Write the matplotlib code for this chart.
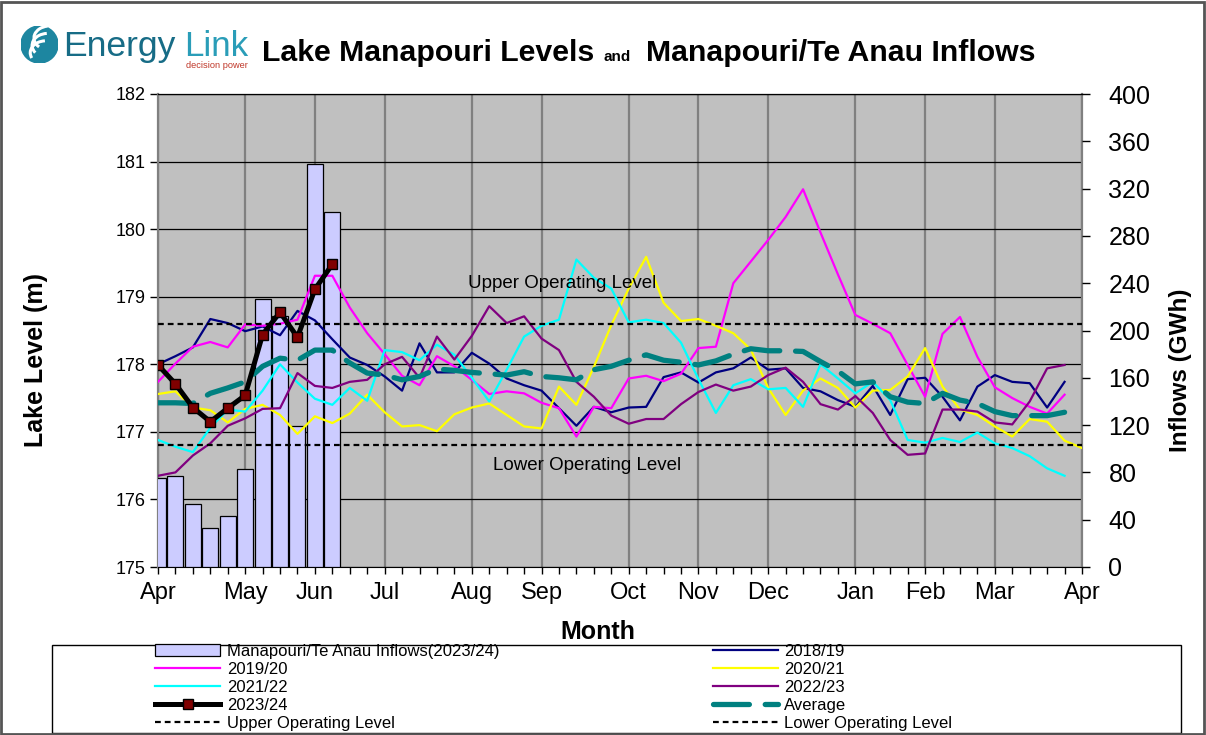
import numpy as np
import matplotlib.pyplot as plt
from matplotlib.patches import Rectangle, Circle, Arc

plt.rcParams['font.family'] = ['Liberation Sans', 'DejaVu Sans']

W, H = 1206, 735

month_labels = ['Apr', 'May', 'Jun', 'Jul', 'Aug', 'Sep', 'Oct', 'Nov', 'Dec', 'Jan', 'Feb', 'Mar', 'Apr']
month_weeks = [0, 5, 9, 13, 18, 22, 27, 31, 35, 40, 44, 48, 53]

# weekly inflows 2023/24 (GWh, right axis)
inflows_2324 = [75, 77, 53, 33, 43, 83, 227, 212, 119, 341, 300]

# weekly lake levels (m, left axis)
lvl_2324 = [177.99, 177.71, 177.36, 177.15, 177.35, 177.54, 178.44, 178.77, 178.40, 179.11, 179.48]

lvl_1819 = [178.00, 178.12, 178.25, 178.67, 178.61, 178.49, 178.56, 178.43, 178.79, 178.65,
            178.37, 178.10, 177.99, 177.82, 177.61, 178.31, 177.88, 177.88, 178.17, 178.01,
            177.79, 177.69, 177.61, 177.35, 177.09, 177.37, 177.29, 177.36, 177.37, 177.81,
            177.88, 177.73, 177.88, 177.94, 178.10, 177.92, 177.94, 177.65, 177.60, 177.47,
            177.37, 177.68, 177.25, 177.78, 177.80, 177.52, 177.17, 177.67, 177.84, 177.74,
            177.72, 177.36, 177.74]

lvl_1920 = [177.74, 178.01, 178.26, 178.33, 178.25, 178.59, 178.57, 178.60, 178.66, 179.31,
            179.31, 178.84, 178.46, 178.15, 177.83, 177.69, 178.12, 177.97, 177.77, 177.56,
            177.60, 177.57, 177.43, 177.35, 176.93, 177.37, 177.35, 177.79, 177.83, 177.75,
            177.86, 178.24, 178.26, 179.20, 179.52, 179.84, 180.18, 180.59, 179.95, 179.33,
            178.73, 178.60, 178.46, 177.99, 177.52, 178.45, 178.70, 178.11, 177.66, 177.50,
            177.37, 177.27, 177.55]

lvl_2021 = [177.56, 177.60, 177.36, 177.32, 177.14, 177.34, 177.40, 177.25, 176.97, 177.23,
            177.13, 177.27, 177.55, 177.29, 177.08, 177.10, 177.01, 177.26, 177.36, 177.42,
            177.25, 177.08, 177.05, 177.67, 177.40, 177.96, 178.58, 179.12, 179.59, 178.91,
            178.64, 178.67, 178.57, 178.46, 178.22, 177.65, 177.25, 177.61, 177.79, 177.65,
            177.36, 177.61, 177.62, 177.82, 178.24, 177.67, 177.33, 177.25, 177.08, 176.93,
            177.19, 177.15, 176.87, 176.76]

lvl_2122 = [176.88, 176.78, 176.70, 177.06, 177.33, 177.30, 177.61, 178.00, 177.73, 177.49,
            177.40, 177.65, 177.46, 178.21, 178.18, 178.06, 178.29, 178.14, 177.80, 177.45,
            177.92, 178.41, 178.57, 178.66, 179.55, 179.28, 179.12, 178.62, 178.66, 178.61,
            178.32, 177.78, 177.28, 177.69, 177.78, 177.63, 177.65, 177.37, 178.00, 177.79,
            177.57, 177.74, 177.47, 176.88, 176.84, 176.91, 176.85, 176.99, 176.83, 176.76,
            176.64, 176.46, 176.35]

lvl_2223 = [176.35, 176.40, 176.65, 176.83, 177.09, 177.20, 177.34, 177.35, 177.87, 177.68,
            177.65, 177.74, 177.77, 178.00, 178.11, 177.80, 178.41, 178.07, 178.42, 178.86,
            178.61, 178.71, 178.38, 178.21, 177.74, 177.52, 177.24, 177.12, 177.19, 177.19,
            177.41, 177.59, 177.70, 177.61, 177.67, 177.84, 177.95, 177.74, 177.41, 177.33,
            177.53, 177.28, 176.88, 176.66, 176.68, 177.33, 177.33, 177.30, 177.14, 177.11,
            177.45, 177.94, 177.99]

lvl_avg = [177.43, 177.43, 177.42, 177.57, 177.65, 177.74, 177.97, 178.09, 178.06, 178.21,
           178.21, 178.02, 177.87, 177.84, 177.77, 177.82, 177.93, 177.91, 177.88, 177.86,
           177.84, 177.89, 177.82, 177.80, 177.77, 177.92, 177.97, 178.06, 178.14, 178.06,
           178.03, 177.99, 178.05, 178.15, 178.23, 178.20, 178.20, 178.19, 178.04, 177.90,
           177.71, 177.74, 177.52, 177.44, 177.42, 177.57, 177.47, 177.42, 177.30, 177.24,
           177.24, 177.24, 177.29]

upper_level = 178.6
lower_level = 176.8


def px(x, y):
    return x / W, 1 - y / H


fig = plt.figure(figsize=(W / 100, H / 100), dpi=100)
renderer = fig.canvas.get_renderer()

# base axes: background, grid, level ticks
ax = fig.add_axes([158 / W, 1 - 567 / H, (1082 - 158) / W, (567 - 94) / H])
ax.set_facecolor('#C0C0C0')
ax.set_xlim(0, 53)
ax.set_ylim(175, 182)
ax.set_yticks(range(175, 183))
ax.set_xticks(month_weeks)
ax.set_xticklabels(month_labels, fontsize=17)
ax.set_xticks(np.arange(0, 54), minor=True)
ax.tick_params(axis='x', which='both', direction='out', length=5, pad=6, width=1)
ax.tick_params(axis='y', direction='out', length=6, pad=3, labelsize=13, width=1)
ax.grid(axis='x', which='major', color='#808080', lw=1.6)
ax.grid(axis='y', color='black', lw=0.9)
ax.set_axisbelow(True)
ax.spines['left'].set_color('#808080')
ax.spines['left'].set_linewidth(1.6)
ax.spines['right'].set_color('#808080')
ax.spines['right'].set_linewidth(1.6)
ax.spines['top'].set_linewidth(0.9)

# inflow bars on the right axis
ax2 = ax.twinx()
ax2.set_ylim(0, 400)
ax2.set_yticks(range(0, 401, 40))
ax2.tick_params(axis='y', direction='out', length=6, pad=13, labelsize=18, width=1)
for s in ax2.spines.values():
    s.set_visible(False)
bars = ax2.bar(np.arange(len(inflows_2324)), inflows_2324, width=0.92,
               color='#CCCCFF', edgecolor='black', lw=0.9,
               label='Manapouri/Te Anau Inflows(2023/24)')

# level lines on top
ax3 = ax.twinx()
ax3.set_ylim(ax.get_ylim())
ax3.axis('off')

series = [
    (lvl_1819, '#000080', '2018/19'),
    (lvl_1920, '#FF00FF', '2019/20'),
    (lvl_2021, '#FFFF00', '2020/21'),
    (lvl_2122, '#00FFFF', '2021/22'),
    (lvl_2223, '#800080', '2022/23'),
]
lines = {}
for vals, col, name in series:
    lines[name], = ax3.plot(np.arange(len(vals)), vals, color=col, lw=1.6, label=name)

lavg, = ax3.plot(np.arange(len(lvl_avg)), lvl_avg, color='#008080', lw=3.8,
                 dashes=(6.8, 3.0), dash_capstyle='round', label='Average')
l2324, = ax3.plot(np.arange(len(lvl_2324)), lvl_2324, color='black', lw=3.6,
                  marker='s', markersize=7, markerfacecolor='#800000',
                  markeredgecolor='black', markeredgewidth=1, label='2023/24', zorder=4)
lup = ax3.axhline(upper_level, color='black', lw=1.6, dashes=(2.6, 1.8),
                  label='Upper Operating Level')
llow = ax3.axhline(lower_level, color='black', lw=1.6, dashes=(2.6, 1.8),
                   label='Lower Operating Level')
ax3.text(23.2, upper_level + 0.6, 'Upper Operating Level', ha='center', va='center', fontsize=13.5)
ax3.text(24.6, lower_level - 0.3, 'Lower Operating Level', ha='center', va='center', fontsize=13.5)

# axis titles
fig.text(*px(36, 360), 'Lake Level (m)', rotation=90, ha='center', va='center',
         fontsize=18, fontweight='bold')
fig.text(*px(1180, 370), 'Inflows (GWh)', rotation=90, ha='center', va='center',
         fontsize=17.5, fontweight='bold')
fig.text(*px(598, 632), 'Month', ha='center', va='center', fontsize=18, fontweight='bold')

# title pieces
x = 262
for txt, fs, gap in [('Lake Manapouri Levels', 21.8, 9), ('and', 11, 16),
                     ('Manapouri/Te Anau Inflows', 21.8, 0)]:
    t = fig.text(*px(x, 61), txt, fontsize=fs, fontweight='bold', va='baseline')
    x += t.get_window_extent(renderer).width + gap


def fitted_text(x, y, s, width, color, weight='normal'):
    t = fig.text(*px(x, y), s, color=color, fontsize=20, fontweight=weight, va='baseline',
                 family=['Liberation Sans Narrow', 'Liberation Sans'])
    w = t.get_window_extent(renderer).width
    t.set_fontsize(20 * width / w)
    return t


# logo
lax = fig.add_axes([21 / W, 1 - 63 / H, 37 / W, 37 / H])
lax.set_xlim(-1, 1)
lax.set_ylim(-1, 1)
lax.set_aspect('equal')
lax.axis('off')
lax.add_patch(Circle((0, 0), 1, color='#1d86a0'))
for cx, cy, w_, h_, a1, a2 in [(0.35, -0.45, 1.7, 1.3, 95, 200), (0.45, -0.05, 1.7, 1.3, 95, 210),
                               (0.55, 0.35, 1.7, 1.3, 100, 220)]:
    lax.add_patch(Arc((cx, cy), w_, h_, theta1=a1, theta2=a2, color='white', lw=2.2))
fitted_text(63, 56, 'Energy', 112, '#176c86', weight='medium')
fitted_text(184, 56, 'Link', 64, '#2a9db8', weight='medium')
fitted_text(186, 68, 'decision power', 62, '#c0392b')

# legend box and entries
fig.add_artist(Rectangle(px(52, 733), 1129 / W, 88 / H, transform=fig.transFigure,
                         fill=False, edgecolor='black', lw=1))
handles = [bars, lines['2019/20'], lines['2021/22'], l2324, lup,
           lines['2018/19'], lines['2020/21'], lines['2022/23'], lavg, llow]
labels = [h.get_label() for h in handles]
fig.legend(handles, labels, loc='upper left', bbox_to_anchor=px(155, 644), ncol=2,
           frameon=False, fontsize=12, handlelength=3.9, handletextpad=0.4,
           columnspacing=12.8, labelspacing=0.18, borderpad=0, borderaxespad=0)

fig.add_artist(Rectangle((1 / W, 1 / H), 1 - 3 / W, 1 - 3 / H, transform=fig.transFigure,
                         fill=False, edgecolor='#555555', lw=2))

fig.savefig('out.png', dpi=100)
